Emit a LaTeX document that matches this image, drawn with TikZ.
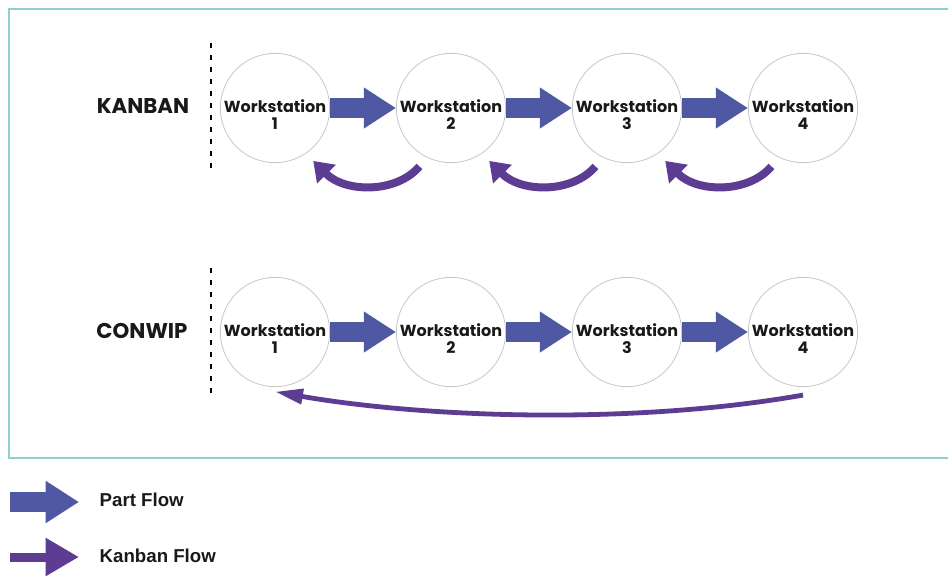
\documentclass[tikz,border=0pt]{standalone}
\usepackage{fontspec}
\setmainfont{Liberation Sans}
\newfontfamily\geofont{Poppins}
\usetikzlibrary{arrows.meta,positioning}
\definecolor{partblue}{HTML}{4E58A3}
\definecolor{kanpurple}{HTML}{5D3C94}
\definecolor{frameteal}{HTML}{8FCFCF}

\begin{document}
\begin{tikzpicture}[x=0.75pt,y=-0.75pt,
 ws/.style={circle,draw=black!22,line width=0.6pt,minimum size=82pt,inner sep=0pt},
 wt/.style={align=center,text=black!90,font=\geofont\bfseries\fontsize{12}{12.5}\selectfont},
 pf/.style={-{Triangle[length=24pt,width=29pt]},partblue,line width=15.5pt},
 kf/.style={-{Triangle[length=14pt,width=19pt]},kanpurple,line width=6pt},
 kl/.style={-{Triangle[length=21pt,width=11pt]},kanpurple,line width=3.6pt},
 lbl/.style={font=\geofont\bfseries\fontsize{16}{18}\selectfont,text=black!90},
 sep/.style={dash pattern=on 4pt off 5pt,line width=1.1pt},
 leg/.style={anchor=west,font=\bfseries\fontsize{14}{16}\selectfont,text=black!90}]
 \fill[white] (0,0) rectangle (948,575);
 \useasboundingbox (0,0) rectangle (948,575);
 \draw[frameteal,line width=1.5pt] (9,9) rectangle (960,458);
 % two rows of stations
 \foreach \i in {1,...,4} {
  \node[ws,label={[wt,yshift=-5pt]center:Workstation\\\i}] (k\i) at (99+176*\i,108) {};
  \node[ws,label={[wt,yshift=-5pt]center:Workstation\\\i}] (c\i) at (99+176*\i,332) {};
 }
 \node[lbl] (kan) at (143,106) {KANBAN};
 \node[lbl] (con) at (142,331) {CONWIP};
 \draw[sep] (211,43) -- (211,174);
 \draw[sep] (211,268) -- (211,399);
 % part flow
 \foreach \i [count=\j from 2] in {1,2,3} {
  \draw[pf] (k\i) -- (k\j);
  \draw[pf] (c\i) -- (c\j);
  \draw[kf] ([yshift=-10pt]k\j.235) .. controls +(-23,27) and +(32,32) .. ([yshift=-10pt]k\i.-46);
 }
 % conwip loop
 \draw[kl] ([yshift=-6pt]c4.south) .. controls +(-170,30) and +(150,26) .. ([yshift=-3.5pt]c1.south);
 % legend
 \coordinate (pf0) at (10,502); \coordinate (pf1) at (79,502);
 \coordinate (kf0) at (10,557); \coordinate (kf1) at (79,557);
 \draw[pf,-{Triangle[length=25pt,width=30pt]}] (pf0) -- (pf1);
 \draw[kf,line width=6.75pt,-{Triangle[length=25pt,width=27pt]}] (kf0) -- (kf1);
 \node[leg] (lpf) at (95,500) {Part Flow};
 \node[leg] (lkf) at (95,556) {Kanban Flow};
\end{tikzpicture}
\end{document}
